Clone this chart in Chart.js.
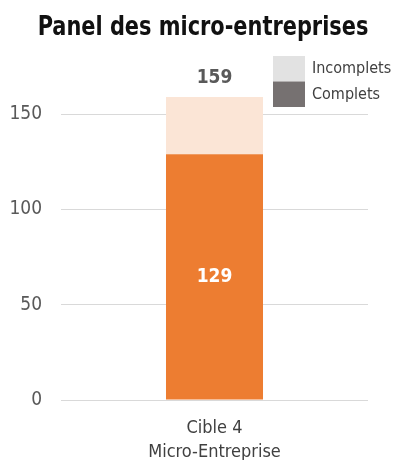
<!DOCTYPE html>
<html>
<head>
<meta charset="utf-8">
<script src="https://cdn.jsdelivr.net/npm/chart.js@4"></script>
<style>
  html, body { margin: 0; padding: 0; background: #fff; }
  #wrap { width: 400px; height: 466px; }
</style>
</head>
<body>
<div id="wrap"><canvas id="panel-chart"></canvas></div>
<script>
// Chart data
const chartTitle = 'Panel des micro-entreprises';
const categories = [['Cible 4', 'Micro-Entreprise']];
const complets = [129];
const incomplets = [30];
const seriesNames = ['Complets', 'Incomplets'];
const yTicks = [0, 50, 100, 150];

const FONT = "'DejaVu Sans Condensed', 'Liberation Sans Narrow', sans-serif";

// title drawn by hand so it can be narrowed and centred on the whole canvas
const narrowTitle = {
  id: 'narrowTitle',
  afterDraw(chart) {
    const ctx = chart.ctx;
    ctx.save();
    ctx.font = 'bold 27px ' + FONT;
    ctx.fillStyle = '#111111';
    ctx.textAlign = 'center';
    ctx.textBaseline = 'alphabetic';
    ctx.translate(203, 35);
    ctx.scale(0.86, 1);
    ctx.fillText(chartTitle, 0, 0);
    ctx.restore();
  }
};

// legend drawn in the top right corner, with the grey swatches of the original
const cornerLegend = {
  id: 'cornerLegend',
  afterDraw(chart) {
    const ctx = chart.ctx;
    const items = [
      { text: chart.data.datasets[1].label, color: '#e2e2e2' },
      { text: chart.data.datasets[0].label, color: '#767171' }
    ];
    ctx.save();
    ctx.font = '16px ' + FONT;
    ctx.textBaseline = 'middle';
    ctx.textAlign = 'left';
    items.forEach((it, i) => {
      const y = 56 + i * 25.5;
      ctx.fillStyle = it.color;
      ctx.fillRect(273, y, 32, 25.5);
      ctx.fillStyle = '#404040';
      ctx.fillText(it.text, 312, y + 13);
    });
    ctx.restore();
  }
};

// value labels: inside the complets bar and the total on top
const valueLabels = {
  id: 'valueLabels',
  afterDatasetsDraw(chart) {
    const ctx = chart.ctx;
    const low = chart.getDatasetMeta(0);
    const high = chart.getDatasetMeta(1);
    ctx.save();
    ctx.font = 'bold 19px ' + FONT;
    ctx.textAlign = 'center';
    ctx.textBaseline = 'middle';
    low.data.forEach((bar, i) => {
      ctx.fillStyle = '#ffffff';
      ctx.fillText(String(complets[i]), bar.x, (bar.y + bar.base) / 2);
      const top = high.data[i];
      ctx.fillStyle = '#595959';
      ctx.fillText(String(complets[i] + incomplets[i]), top.x, top.y - 19);
    });
    ctx.restore();
  }
};

function initChart() {
  const ctx = document.getElementById('panel-chart').getContext('2d');
  new Chart(ctx, {
    type: 'bar',
    data: {
      labels: categories,
      datasets: [
        { label: seriesNames[0], data: complets, backgroundColor: '#ed7d31', barPercentage: 1, categoryPercentage: 0.316 },
        { label: seriesNames[1], data: incomplets, backgroundColor: '#fbe5d6', barPercentage: 1, categoryPercentage: 0.316 }
      ]
    },
    options: {
      responsive: true,
      maintainAspectRatio: false,
      animation: false,
      layout: { padding: { left: 0, right: 32, top: 76, bottom: 6 } },
      scales: {
        x: {
          stacked: true,
          grid: { display: false, drawTicks: false },
          border: { display: false },
          ticks: { color: '#404040', padding: 16, font: { family: FONT, size: 18, lineHeight: 1.33 } },
          afterFit(scale) { scale.height = 60; }
        },
        y: {
          stacked: true,
          min: 0,
          max: 170,
          afterBuildTicks(scale) { scale.ticks = yTicks.map(v => ({ value: v })); },
          grid: { color: '#d9d9d9', drawTicks: false },
          border: { display: false },
          ticks: { color: '#595959', padding: 19, font: { family: FONT, size: 19 } },
          afterFit(scale) { scale.width = 61; }
        }
      },
      plugins: {
        legend: { display: false },
        tooltip: { enabled: false },
        title: { display: false }
      }
    },
    plugins: [valueLabels, cornerLegend, narrowTitle]
  });
}

initChart();
</script>
</body>
</html>
